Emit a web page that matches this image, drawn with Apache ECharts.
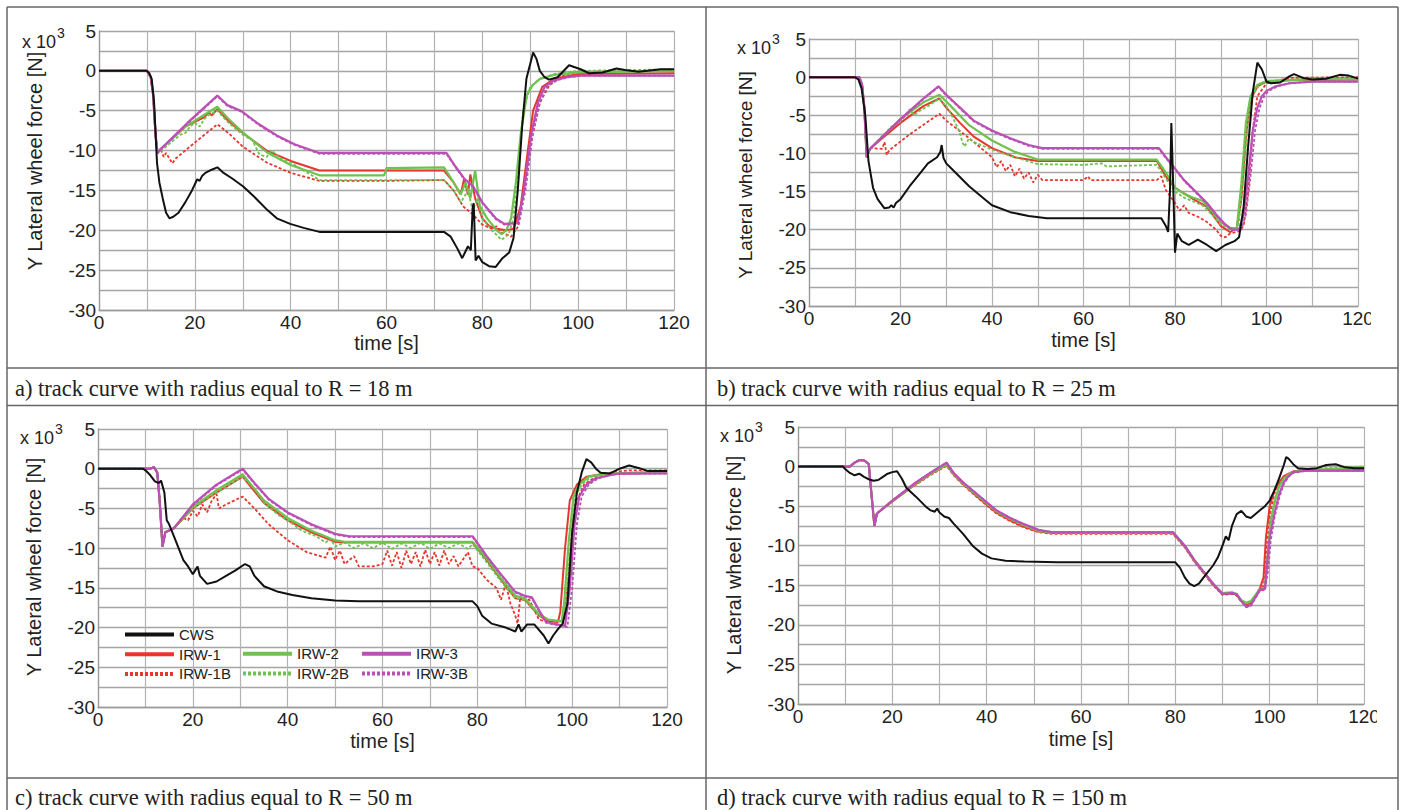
<!DOCTYPE html>
<html><head><meta charset="utf-8">
<script src="https://cdn.jsdelivr.net/npm/echarts@6/dist/echarts.min.js"></script>
<style>html,body{margin:0;padding:0;background:#fff}#c{width:1402px;height:810px}</style>
</head><body><div id="c"></div>
<script>
// ---------- DATA ----------
const seriesNames = ['CWS','IRW-1','IRW-1B','IRW-2','IRW-2B','IRW-3','IRW-3B'];
const xTickLabels = [0,20,40,60,80,100,120];
const yTickLabels = [5,0,-5,-10,-15,-20,-25,-30];
const captions = ['a) track curve with radius equal to R = 18 m','b) track curve with radius equal to R = 25 m','c) track curve with radius equal to R = 50 m','d) track curve with radius equal to R = 150 m'];

// panel a (R = 18 m)
const a_CWS = [[0,0],[10,0],[10.5,-0.3],[11,-1],[11.5,-4],[12.1,-11.5],[12.6,-14],[13.3,-16],[14,-17.8],[14.7,-18.5],[15.5,-18.3],[16.6,-17.8],[18,-16.5],[19.4,-15],[20.5,-13.6],[21,-13.8],[21.5,-13.2],[22.2,-12.8],[23.5,-12.4],[24.7,-12.1],[26,-12.8],[27.8,-13.5],[30.1,-14.5],[32.4,-15.8],[35.2,-17.5],[37.1,-18.5],[39.9,-19.2],[42.7,-19.7],[46,-20.2],[72,-20.2],[73.4,-20.8],[74.8,-22.3],[75.8,-23.5],[76.2,-23],[77,-22],[77.6,-22.5],[78,-17],[78.2,-16.6],[78.6,-23.8],[79.2,-23.2],[80,-24],[81.4,-24.5],[82.8,-24.6],[84.2,-23.5],[85.6,-22.8],[86.5,-21],[87.4,-15],[88.3,-7],[89.2,-1],[90.6,2.3],[91.3,1.5],[92,0],[93,-0.8],[93.9,-1.1],[95.7,-0.8],[98.1,0.7],[100.5,0.2],[102.3,-0.3],[105.1,-0.2],[108,0.3],[109.8,0.1],[112.6,-0.1],[117.2,0.2],[120,0.2]];
const a_IRW1 = [[0,0],[10,0],[10.8,-0.8],[11.3,-3],[11.8,-8],[12.2,-10.3],[12.9,-9.8],[18,-7],[22,-5.8],[23,-5.2],[23.5,-5.6],[24.7,-4.8],[27,-6.3],[30,-7.8],[35,-10],[40,-11.3],[46,-12.5],[72,-12.5],[74,-14],[75.5,-15.5],[76.2,-13.5],[77,-15.5],[77.5,-13],[78.5,-16],[80,-18.5],[81.5,-19.5],[83,-19.8],[85,-20],[86.5,-19.8],[88,-17],[89.5,-10],[90.6,-5],[92.5,-2],[95,-1],[100,-0.4],[120,-0.3]];
const a_IRW1B = [[0,0],[10,0],[10.8,-0.8],[11.3,-3],[11.8,-8],[12.2,-10.3],[13,-10],[13.5,-10.8],[14,-10.3],[14.7,-11],[15.3,-11.6],[16,-11],[20,-9],[24.7,-6.7],[27,-7.8],[30,-9.5],[35,-11.5],[40,-12.8],[46,-13.8],[60,-13.8],[72,-13.7],[74,-15],[76,-17],[78,-18],[80,-19.3],[82,-19.8],[83,-19.5],[84,-20.3],[85,-20.5],[86,-20.8],[87.5,-19.5],[89,-14],[90.5,-8],[92,-4],[94,-1.8],[97,-0.5],[100,-0.1],[120,0]];
const a_IRW2 = [[0,0],[10,0],[10.8,-0.8],[11.3,-3],[11.8,-8],[12.2,-10.3],[12.9,-9.8],[18,-7],[22,-5.5],[24.7,-4.5],[27,-6],[30,-7.7],[35,-10.2],[40,-11.8],[46,-13.1],[59.5,-13.1],[60,-12.2],[72,-12.1],[74,-14],[75.5,-15.5],[76.5,-14],[77.5,-16],[78.5,-12.5],[79.5,-17],[81,-18.5],[83,-20],[84,-20.5],[85,-20],[86,-18.5],[87,-14],[88,-8],[89.3,-3],[90.5,-1.8],[92,-1],[95,-0.5],[100,-0.2],[120,0]];
const a_IRW2B = [[0,0],[10,0],[10.8,-0.8],[11.3,-3],[11.8,-8],[12.2,-10.3],[13,-10],[15,-9],[17,-8],[18,-7.8],[19,-7],[20,-6.5],[21,-7],[22,-6],[23,-5.5],[24.7,-5],[27,-6.5],[30,-8],[32,-8.7],[33.5,-10.5],[35,-10.8],[36,-10],[38,-11],[40,-11.5],[46,-13.7],[72,-13.7],[74,-15],[75.5,-16.5],[77,-15],[78,-17.5],[79,-16],[80,-18.5],[82,-20],[84,-21.2],[85.5,-20.5],[86.5,-18.5],[87.5,-12],[88.5,-5],[90,-2],[92,-1],[95,-0.4],[100,0],[120,0.2]];
const a_IRW3 = [[0,0],[10,0],[10.8,-0.8],[11.3,-3],[11.8,-8],[12.2,-10.3],[12.9,-9.8],[18.5,-6.5],[24.7,-3.1],[26.8,-4.3],[29.6,-5],[33.4,-6.7],[37.1,-8.1],[40.8,-9.2],[46,-10.3],[72.5,-10.3],[74.4,-12],[76.2,-13.5],[78.1,-14.5],[80,-16.5],[82.8,-18.5],[84.6,-19.2],[87.4,-19.1],[88.7,-15],[90.2,-8],[91.6,-4],[93,-2],[94.9,-1.2],[97.7,-0.8],[100.5,-0.6],[120,-0.6]];
const a_IRW3B = [[0,0],[10,0],[10.8,-0.8],[11.3,-3],[11.8,-8],[12.2,-10.3],[12.9,-9.8],[18.5,-6.6],[24.7,-3.2],[26.8,-4.4],[29.6,-5.1],[33.4,-6.8],[37.1,-8.2],[40.8,-9.3],[46,-10.4],[72.5,-10.4],[74.4,-12.1],[76.2,-13.6],[78.1,-14.6],[80,-16.6],[82.8,-18.6],[84.6,-19.3],[87.6,-19.2],[89,-15],[90.5,-8],[92,-4],[93.5,-2],[95.5,-1.2],[98,-0.8],[101,-0.6],[120,-0.6]];

// panel b (R = 25 m)
const b_CWS = [[0,0],[10,0],[10.8,-0.3],[11.5,-1.5],[12.3,-5],[13,-11],[14,-14.5],[15,-16],[16.5,-17.2],[17.5,-17.1],[18,-16.8],[18.5,-17.1],[19,-16.5],[20,-16],[22,-14.3],[24,-12.8],[26,-11.3],[28,-10.5],[28.7,-9.8],[29,-8.9],[29.4,-10.6],[30,-11.3],[32,-12.5],[35,-14.3],[38,-15.8],[40,-16.8],[44,-17.7],[48,-18.2],[52,-18.5],[77,-18.5],[78,-19.5],[78.5,-20.3],[78.9,-15],[79.2,-6],[79.6,-14],[80,-23],[80.5,-20.5],[81.5,-21.5],[83,-22],[85,-21.3],[87,-22],[89,-22.8],[91,-22],[93,-21.5],[94,-21],[95,-17],[96,-9],[97,-2],[98,1.9],[99,1],[100,-0.6],[101,-0.8],[103,-0.7],[105,0.1],[106,0.4],[108,-0.1],[110,-0.3],[113,-0.2],[116,0.3],[118,0.2],[120,-0.2]];
const b_IRW1 = [[0,0],[11,0],[11.6,-1],[12.1,-4],[12.6,-10.5],[13,-9.8],[13.5,-9.3],[20,-6],[25,-3.8],[28.5,-2.8],[30,-4],[33,-6],[36,-7.8],[40,-9.3],[45,-10.5],[50,-11],[76,-11],[78,-13],[80,-14.5],[84,-16],[87,-17],[90,-19.5],[92,-20.3],[93.5,-19.8],[94.5,-16],[95.5,-8],[96.5,-3],[98,-1.2],[100,-0.6],[105,-0.4],[120,-0.3]];
const b_IRW1B = [[0,0],[11,0],[11.6,-1],[12.1,-4],[12.6,-10.5],[13,-9.8],[13.5,-9.3],[16,-9.4],[16.5,-8.5],[17,-10.2],[17.5,-9.6],[22,-7.5],[28.5,-4.8],[30,-5.7],[35,-8],[38,-9.5],[40,-10.5],[41,-11.8],[42,-11],[43,-12.3],[44,-11.5],[45,-13],[46,-12],[47,-13.3],[48,-12.5],[49,-13.8],[50,-12.8],[51,-13.5],[60,-13.5],[61,-13],[61.5,-13.5],[76,-13.5],[77,-13],[78,-14.8],[80,-16.5],[81,-17.5],[82,-16.8],[83,-17.8],[85,-18.3],[87,-19],[89,-20],[90,-20.8],[91,-21],[92,-20.5],[94,-20.2],[95,-19.5],[96,-15],[97,-7],[98,-2.5],[100,-0.8],[105,-0.1],[120,0]];
const b_IRW2 = [[0,0],[11,0],[11.6,-1],[12.1,-4],[12.6,-10.5],[13,-9.8],[13.5,-9.3],[20,-5.5],[25,-3.3],[28.5,-2.3],[31,-3.8],[35,-6.3],[40,-8.3],[45,-9.8],[50,-10.8],[76,-10.8],[78,-12.5],[80,-14.5],[82,-15.3],[84,-15.8],[86,-16.2],[88,-17.5],[90,-19],[92,-19.8],[93.5,-19.8],[94.5,-14],[95.5,-6],[96.5,-2.5],[98,-1],[100,-0.5],[110,-0.3],[120,-0.3]];
const b_IRW2B = [[0,0],[11,0],[11.6,-1],[12.1,-4],[12.6,-10.5],[13,-9.8],[13.5,-9.3],[18,-6.5],[20,-5.8],[21,-5],[22,-4.2],[23,-5],[24,-4.5],[26,-3.8],[28.5,-2.8],[30,-3.8],[31,-4.8],[32,-6],[33,-7.3],[33.5,-8.5],[34,-9.1],[35,-8],[36,-8.5],[40,-9.5],[45,-10.5],[50,-11.4],[60,-11.5],[64,-11.3],[65,-11.7],[76,-11.5],[78,-13.3],[80,-15],[82,-15.8],[84,-16.3],[86,-16.8],[88,-18],[90,-19.3],[92,-20],[93.8,-20],[95,-13],[96,-5.5],[97,-2.3],[98.5,-1],[100,-0.5],[110,-0.2],[120,-0.2]];
const b_IRW3 = [[0,0],[11,0],[11.6,-1],[12.1,-4],[12.6,-10.5],[13,-9.8],[13.5,-9.3],[20,-5.5],[25,-2.8],[28.3,-1.2],[30,-2.3],[33,-4],[36,-5.7],[40,-7],[44,-8],[48,-8.9],[51,-9.3],[76.5,-9.3],[78,-10.5],[80,-12],[82,-13.5],[85,-15.3],[87,-16.5],[89,-18],[91,-19.3],[92.5,-20],[94,-20],[95,-18],[96,-13],[97,-7],[98,-4],[99,-2.5],[100,-1.8],[102,-1.2],[105,-0.8],[110,-0.6],[120,-0.6]];
const b_IRW3B = [[0,0],[11,0],[11.6,-1],[12.1,-4],[12.6,-10.5],[13,-9.8],[13.5,-9.3],[20,-5.6],[25,-2.9],[28.3,-1.3],[30,-2.4],[33,-4.1],[36,-5.8],[40,-7.1],[44,-8.1],[48,-9],[51,-9.4],[76.5,-9.4],[78,-10.6],[80,-12.1],[82,-13.6],[85,-15.4],[87,-16.6],[89,-18.1],[91,-19.4],[92.5,-20],[94.5,-20],[95.5,-18],[96.5,-13],[97.5,-7],[98.5,-4],[99.5,-2.5],[100.5,-1.8],[102.5,-1.2],[105,-0.8],[110,-0.6],[120,-0.6]];

// panel c (R = 50 m)
const c_CWS = [[0,0],[9.5,0],[10,-0.2],[11,-0.8],[12,-1.6],[12.8,-1.8],[13.3,-1.5],[14,-3],[14.5,-6.5],[15,-7],[16,-8.5],[17,-10],[18,-11.5],[19,-12.3],[20,-13.3],[20.5,-12.8],[21,-12.3],[21.5,-13.5],[23,-14.5],[25,-14.2],[27,-13.5],[29,-12.8],[31,-12],[32,-12.3],[33,-13.5],[35,-14.8],[38,-15.5],[41,-15.9],[45,-16.3],[50,-16.6],[55,-16.7],[79,-16.7],[80,-17.3],[81,-18.5],[83,-19.5],[86,-20],[88,-20.5],[88.7,-19.6],[89.3,-20.5],[90.5,-19.6],[92,-19.6],[94,-21],[95,-22],[96,-21],[97,-20.2],[98,-19.5],[99,-17],[100,-8],[101,-3],[102,-0.5],[103,1.2],[104,0.8],[105,0],[106,-0.5],[108,-0.6],[110,0],[112,0.4],[114,0.1],[116,-0.3],[120,-0.3]];
const c_IRW1 = [[0,0],[11,0],[11.8,0.2],[12.5,-0.5],[13,-4],[13.6,-9.8],[14.2,-8],[16,-7.5],[20,-5],[25,-3],[30.5,-1],[35,-4.3],[40,-6.5],[45,-8],[50,-9.2],[52,-9.3],[79,-9.3],[82,-11.5],[85,-14],[88,-16.3],[90,-16.5],[93,-18.5],[95,-19.2],[97,-19.3],[97.5,-18],[98.5,-10],[99.5,-4],[101,-2],[103,-1],[106,-0.7],[120,-0.5]];
const c_IRW1B = [[0,0],[11,0],[11.8,0.2],[12.5,-0.5],[13,-4],[13.6,-9.8],[14.2,-8],[16,-7.5],[18,-6.2],[19,-6.5],[20,-5.3],[21,-6],[22,-4.5],[23,-5.5],[24,-4],[25,-3.2],[25.5,-5],[27,-4.5],[30.5,-3.5],[33,-5],[36,-7],[40,-9],[44,-10.5],[48,-11.2],[49,-9.8],[50,-11.5],[51,-10.3],[52,-12],[54,-11],[55,-12.3],[58,-12.3],[60,-12],[61,-10.3],[62,-12.2],[63,-10.5],[64,-12.5],[65,-10.3],[66,-12],[67,-10.5],[68,-12.3],[69,-10.2],[70,-12],[71,-10.5],[72,-12.2],[73,-10.3],[74,-12],[75,-11],[76,-12.3],[78,-10.5],[79,-12.3],[80,-12.5],[82,-14],[84,-15],[85,-16.5],[86,-14.5],[87,-17],[88,-18.5],[88.5,-19.5],[89,-16.5],[91,-16.5],[93,-19],[96,-19.5],[98,-19.8],[99,-15],[100,-8],[101,-4],[102.5,-2],[105,-1],[108,-0.5],[112,-0.2],[120,-0.2]];
const c_IRW2 = [[0,0],[11,0],[11.8,0.2],[12.5,-0.5],[13,-4],[13.6,-9.8],[14.2,-8],[16,-7.5],[20,-4.8],[25,-2.7],[30.5,-0.7],[35,-4],[40,-6.2],[45,-7.8],[50,-9],[52,-9.2],[79,-9.2],[82,-11.3],[85,-13.8],[88,-16],[90,-16.3],[93,-18.3],[95,-19],[97.8,-19.2],[98.3,-17],[99.3,-9],[100.3,-3.5],[101.5,-2],[103.5,-1],[107,-0.6],[120,-0.4]];
const c_IRW2B = [[0,0],[11,0],[11.8,0.2],[12.5,-0.5],[13,-4],[13.6,-9.8],[14.2,-8],[16,-7.5],[20,-5],[25,-3],[30.5,-1],[33,-2.5],[35,-4.3],[38,-5.8],[40,-6.5],[43,-7.8],[46,-8.5],[48,-9.3],[49,-8.8],[50,-9.8],[52,-9.3],[54,-10],[56,-9.4],[58,-10],[60,-9.3],[62,-10.1],[64,-9.4],[66,-10],[68,-9.3],[70,-10.1],[72,-9.4],[74,-10],[76,-9.4],[78,-10.1],[79,-9.5],[82,-11.8],[85,-14.2],[88,-16.3],[90,-16.5],[93,-18.5],[95,-19],[98,-19.3],[98.7,-17],[99.7,-9],[100.7,-3.5],[102,-2],[104,-1],[108,-0.6],[120,-0.3]];
const c_IRW3 = [[0,0],[11,0],[11.8,0.2],[12.5,-0.5],[13,-4],[13.6,-9.8],[14.2,-8],[16,-7.5],[20,-4.5],[25,-2],[30.5,0],[33,-1.8],[36,-3.8],[40,-5.5],[45,-7],[50,-8.2],[53,-8.5],[79,-8.5],[82,-11],[85,-13.3],[88,-15.5],[90,-16],[91.5,-16.2],[93,-17.8],[94.5,-19.3],[96,-19.5],[98.5,-19.8],[99.5,-15],[100.5,-7],[101.5,-3.5],[103,-2],[105,-1.2],[108,-0.8],[110,-0.6],[120,-0.6]];
const c_IRW3B = [[0,0],[11,0],[11.8,0.2],[12.5,-0.5],[13,-4],[13.6,-9.8],[14.2,-8],[16,-7.5],[20,-4.6],[25,-2.1],[30.5,-0.1],[33,-1.9],[36,-3.9],[40,-5.6],[45,-7.1],[50,-8.3],[53,-8.6],[79,-8.6],[82,-11.1],[85,-13.4],[88,-15.6],[90,-16.1],[91.5,-16.3],[93,-17.9],[94.5,-19.4],[96,-19.6],[99,-19.9],[100,-15],[101,-7],[102,-3.5],[103.5,-2],[105.5,-1.2],[108,-0.8],[110,-0.6],[120,-0.6]];

// panel d (R = 150 m)
const d_CWS = [[0,0],[9.5,0],[10,-0.3],[11,-0.8],[12,-1.1],[13,-0.9],[14,-1.3],[15,-1.6],[16,-1.8],[17,-1.7],[18,-1.3],[19,-0.9],[20,-0.7],[21,-0.6],[22,-1.5],[23,-2.7],[25,-3.8],[27,-5],[28,-5.5],[29,-5.7],[29.5,-5.3],[30,-5.8],[31,-6.3],[32,-6.5],[33,-7.2],[35,-8.5],[37,-10],[39,-11],[41,-11.6],[44,-11.9],[48,-12],[55,-12.1],[80,-12.1],[81,-12.8],[82,-14],[83,-14.8],[84,-15.1],[85,-14.8],[86,-14],[88,-12.5],[89,-11.5],[90,-10],[90.7,-8.8],[91.3,-9.3],[92,-7.5],[93,-6],[94,-5.6],[95,-6.3],[96,-6.5],[97,-6],[98,-5.5],[99,-5],[100,-4.3],[101,-3],[102,-1.5],[103,0.2],[103.5,1.2],[104,1],[105,0.3],[106,-0.2],[108,-0.3],[110,-0.2],[112,0.2],[114,0.3],[116,-0.1],[118,-0.2],[120,-0.2]];
const d_IRW1 = [[0,0],[11,0],[12,0.5],[13,0.8],[14,0.8],[15,0.3],[15.5,-3],[16.2,-7.5],[16.7,-6],[17,-5.8],[20,-4.4],[25,-2.2],[28,-1],[31.5,0.2],[33,-1],[35,-2.2],[38,-3.8],[42,-5.8],[45,-6.8],[48,-7.6],[51,-8.2],[54,-8.4],[79.5,-8.4],[82,-10.1],[84,-11.9],[86,-13.4],[88,-14.9],[90,-16.1],[92,-16],[93,-16.2],[94,-17],[95,-17.5],[96,-17.2],[97,-16.3],[98,-15.3],[98.7,-14],[99.2,-9],[100,-5],[101,-3],[102,-2],[103,-1.2],[105,-0.6],[108,-0.5],[120,-0.5]];
const d_IRW1B = [[0,0],[11,0],[12,0.5],[13,0.8],[14,0.8],[15,0.3],[15.5,-3],[16.2,-7.5],[16.7,-6],[17,-5.8],[20,-4.4],[23,-3.1],[24,-2.6],[25,-2.3],[28,-1.1],[31.5,0.1],[33,-1.1],[35,-2.3],[38,-3.9],[42,-5.9],[45,-6.9],[48,-7.7],[51,-8.3],[54,-8.5],[79.5,-8.5],[82,-10.2],[84,-12],[86,-13.5],[88,-15],[90,-16.2],[92,-16.1],[93,-16.3],[94,-17.1],[95,-17.6],[96,-17.3],[97,-16.4],[98,-15.6],[98.8,-15],[99.4,-10],[100.2,-5.5],[101.2,-3],[102.5,-1.8],[104,-1],[106,-0.5],[120,-0.4]];
const d_IRW2 = [[0,0],[11,0],[12,0.5],[13,0.8],[14,0.8],[15,0.3],[15.5,-3],[16.2,-7.5],[16.7,-6],[17,-5.8],[20,-4.3],[25,-2.1],[28,-0.9],[31.5,0.3],[33,-0.9],[35,-2.1],[38,-3.6],[42,-5.6],[45,-6.6],[48,-7.4],[51,-8.1],[54,-8.3],[79.5,-8.3],[82,-10],[84,-11.8],[86,-13.3],[88,-14.8],[90,-16],[92,-15.9],[93,-16.1],[94,-16.9],[95,-17.2],[96,-17],[97,-16.2],[98,-15.5],[99,-15.2],[99.6,-11],[100.2,-7],[101,-4.5],[102,-2.5],[103,-1.5],[104.5,-0.8],[107,-0.4],[120,-0.2]];
const d_IRW2B = [[0,0],[11,0],[12,0.5],[13,0.8],[14,0.8],[15,0.3],[15.5,-3],[16.2,-7.5],[16.7,-6],[17,-5.8],[20,-4.4],[25,-2.2],[28,-1],[31.5,0.2],[33,-1],[35,-2.2],[38,-3.7],[42,-5.7],[45,-6.7],[48,-7.5],[51,-8.2],[54,-8.4],[79.5,-8.4],[82,-10.1],[84,-11.9],[86,-13.4],[88,-14.9],[90,-16],[92,-15.9],[93,-16.2],[94,-17],[95,-17.3],[96,-17.1],[97,-16.3],[98,-15.6],[99,-15.3],[99.7,-11],[100.3,-7],[101.1,-4.5],[102,-2.5],[103,-1.5],[104.5,-0.8],[107,-0.3],[120,0]];
const d_IRW3 = [[0,0],[11,0],[12,0.5],[13,0.8],[14,0.8],[15,0.3],[15.5,-3],[16.2,-7.5],[16.7,-6],[17,-5.8],[20,-4.3],[25,-2],[28,-0.8],[31.5,0.5],[33,-0.8],[35,-2],[38,-3.5],[42,-5.5],[45,-6.5],[48,-7.3],[51,-8],[54,-8.3],[79.5,-8.3],[82,-10],[84,-11.8],[86,-13.3],[88,-14.8],[90,-16.1],[92,-16],[93,-16.1],[94,-17],[95,-17.7],[96,-17.5],[97,-16.5],[98,-15.5],[99,-15.5],[99.5,-12],[100,-9],[101,-6],[102,-3.5],[103,-2],[104,-1.2],[105,-0.7],[108,-0.5],[120,-0.5]];
const d_IRW3B = [[0,0],[11,0],[12,0.5],[13,0.8],[14,0.8],[15,0.3],[15.5,-3],[16.2,-7.5],[16.7,-6],[17,-5.8],[20,-4.3],[25,-2],[28,-0.8],[31.5,0.5],[33,-0.8],[35,-2],[38,-3.5],[42,-5.5],[45,-6.5],[48,-7.3],[51,-8],[54,-8.3],[79.5,-8.3],[82,-10],[84,-11.8],[86,-13.3],[88,-14.8],[90,-16.1],[92,-16],[93,-16.1],[94,-17],[95,-17.8],[96,-17.6],[97,-16.6],[98,-15.6],[99,-15.6],[99.7,-13],[100.2,-9.5],[101,-6.5],[102,-4],[103,-2.2],[104,-1.3],[105,-0.8],[108,-0.5],[120,-0.5]];

// ---------- LAYOUT / STYLE ----------
const panelData = [
  [a_CWS,a_IRW1,a_IRW1B,a_IRW2,a_IRW2B,a_IRW3,a_IRW3B],
  [b_CWS,b_IRW1,b_IRW1B,b_IRW2,b_IRW2B,b_IRW3,b_IRW3B],
  [c_CWS,c_IRW1,c_IRW1B,c_IRW2,c_IRW2B,c_IRW3,c_IRW3B],
  [d_CWS,d_IRW1,d_IRW1B,d_IRW2,d_IRW2B,d_IRW3,d_IRW3B]
];
const grids = [
  {left:99, top:31, width:575, height:279},
  {left:809, top:39, width:549, height:267},
  {left:98, top:429, width:569, height:278},
  {left:798, top:427, width:566, height:277}
];
const capPos = [[15,388],[717,388],[15,797],[717,797]];
const yTitleX = [35,745,34,734];
const yTitleY = [161,175,567,565];
const yTitleSize = [20,19,20,20];
const x10Pos = [[22,42],[737,48],[20,438],[720,436]];
const timeY = [343,340,741,739];

const RED='#e8352e', GREEN='#6fc24f', MAG='#bb4fb5', BLACK='#111111';
const styles = {
  'CWS':   {color:BLACK, width:2, type:'solid', z:9},
  'IRW-1': {color:RED, width:2, type:'solid', z:4},
  'IRW-1B':{color:RED, width:1.8, type:[3,2], z:3},
  'IRW-2': {color:GREEN, width:2.2, type:'solid', z:6},
  'IRW-2B':{color:GREEN, width:1.8, type:[3,2], z:5},
  'IRW-3': {color:MAG, width:2.2, type:'solid', z:8},
  'IRW-3B':{color:MAG, width:1.8, type:[3,2], z:7}
};
const SANS = '"Liberation Sans", Arial, sans-serif';
const SERIF = '"Liberation Serif", "Times New Roman", serif';

const xAxes = [], yAxes = [], series = [];
grids.forEach((g,i)=>{
  xAxes.push({gridIndex:i, type:'value', min:0, max:120, interval:10,
    axisLine:{show:true, onZero:false, lineStyle:{color:'#9a9a9a', width:1.3}},
    axisTick:{show:false},
    axisLabel:{margin:3, fontSize:19, fontFamily:SANS, color:'#222',
      formatter:v=> xTickLabels.indexOf(v)>=0 ? String(v) : ''},
    splitLine:{show:true, lineStyle:{color:'#b3b3b3', width:1.2}}
  });
  yAxes.push({gridIndex:i, type:'value', min:-30, max:5, interval:2.5,
    axisLine:{show:true, lineStyle:{color:'#9a9a9a', width:1.3}},
    axisTick:{show:false},
    axisLabel:{margin:3, fontSize:19, fontFamily:SANS, color:'#222',
      formatter:v=> yTickLabels.indexOf(v)>=0 ? String(v) : ''},
    splitLine:{show:true, lineStyle:{color:'#a5a5a5', width:1.4}}
  });
  seriesNames.forEach((n,k)=>{
    const s = styles[n];
    series.push({name:n, type:'line', xAxisIndex:i, yAxisIndex:i, data:panelData[i][k],
      symbol:'none', showSymbol:false, z:s.z, animation:false, silent:true,
      lineStyle:{color:s.color, width:s.width, type:s.type}, itemStyle:{color:s.color}});
  });
});

const graphic = [];
// white masks where the original plot images were cropped at the right
graphic.push({type:'rect', shape:{x:1371, y:309, width:25, height:24}, style:{fill:'#fff'}, z:100});
graphic.push({type:'rect', shape:{x:1377, y:706, width:19, height:24}, style:{fill:'#fff'}, z:100});
// table lines
const TL = '#666';
[[7,7,1398,7],[7,368,1398,368],[7,405.5,1398,405.5],[7,778,1398,778],[7,7,7,810],[706,7,706,810],[1398,7,1398,810]]
  .forEach(p=>graphic.push({type:'line', shape:{x1:p[0],y1:p[1],x2:p[2],y2:p[3]}, style:{stroke:TL, lineWidth:1.5}, silent:true, z:101}));
grids.forEach((g,i)=>{
  graphic.push({type:'text', x:x10Pos[i][0], y:x10Pos[i][1], style:{text:'x 10', font:'18px '+SANS, fill:'#222', textAlign:'left', textVerticalAlign:'middle', align:'left', verticalAlign:'middle'}});
  graphic.push({type:'text', x:x10Pos[i][0]+35, y:x10Pos[i][1]-9, style:{text:'3', font:'14px '+SANS, fill:'#222', textAlign:'left', textVerticalAlign:'middle', align:'left', verticalAlign:'middle'}});
  graphic.push({type:'text', x:yTitleX[i], y:yTitleY[i], rotation:Math.PI/2, style:{text:'Y Lateral wheel force [N]', font:yTitleSize[i]+'px '+SANS, fill:'#222', textAlign:'center', textVerticalAlign:'middle', align:'center', verticalAlign:'middle'}});
  graphic.push({type:'text', x:g.left+g.width/2, y:timeY[i], style:{text:'time [s]', font:'20px '+SANS, fill:'#222', textAlign:'center', textVerticalAlign:'middle', align:'center', verticalAlign:'middle'}});
  graphic.push({type:'text', x:capPos[i][0], y:capPos[i][1], style:{text:captions[i], font:'22.5px '+SERIF, fill:'#222', textAlign:'left', textVerticalAlign:'middle', align:'left', verticalAlign:'middle'}});
});

const legBase = {orient:'vertical', padding:0, itemWidth:49, itemHeight:14, itemGap:4.7, selectedMode:false,
  lineStyle:{width:4}, itemStyle:{opacity:0, color:'rgba(0,0,0,0)', borderWidth:0},
  textStyle:{fontSize:15, fontFamily:SANS, color:'#222', lineHeight:14}};
const legends = [
  Object.assign({}, legBase, {left:123, top:627, data:['CWS','IRW-1','IRW-1B']}),
  Object.assign({}, legBase, {left:241, top:646.3, data:['IRW-2','IRW-2B']}),
  Object.assign({}, legBase, {left:360, top:646.3, data:['IRW-3','IRW-3B']})
];

const chart = echarts.init(document.getElementById('c'), null, {renderer:'svg', width:1402, height:810});
chart.setOption({
  backgroundColor:'#ffffff',
  animation:false,
  grid: grids,
  xAxis: xAxes,
  yAxis: yAxes,
  legend: legends,
  series: series,
  graphic: graphic
});
</script></body></html>
